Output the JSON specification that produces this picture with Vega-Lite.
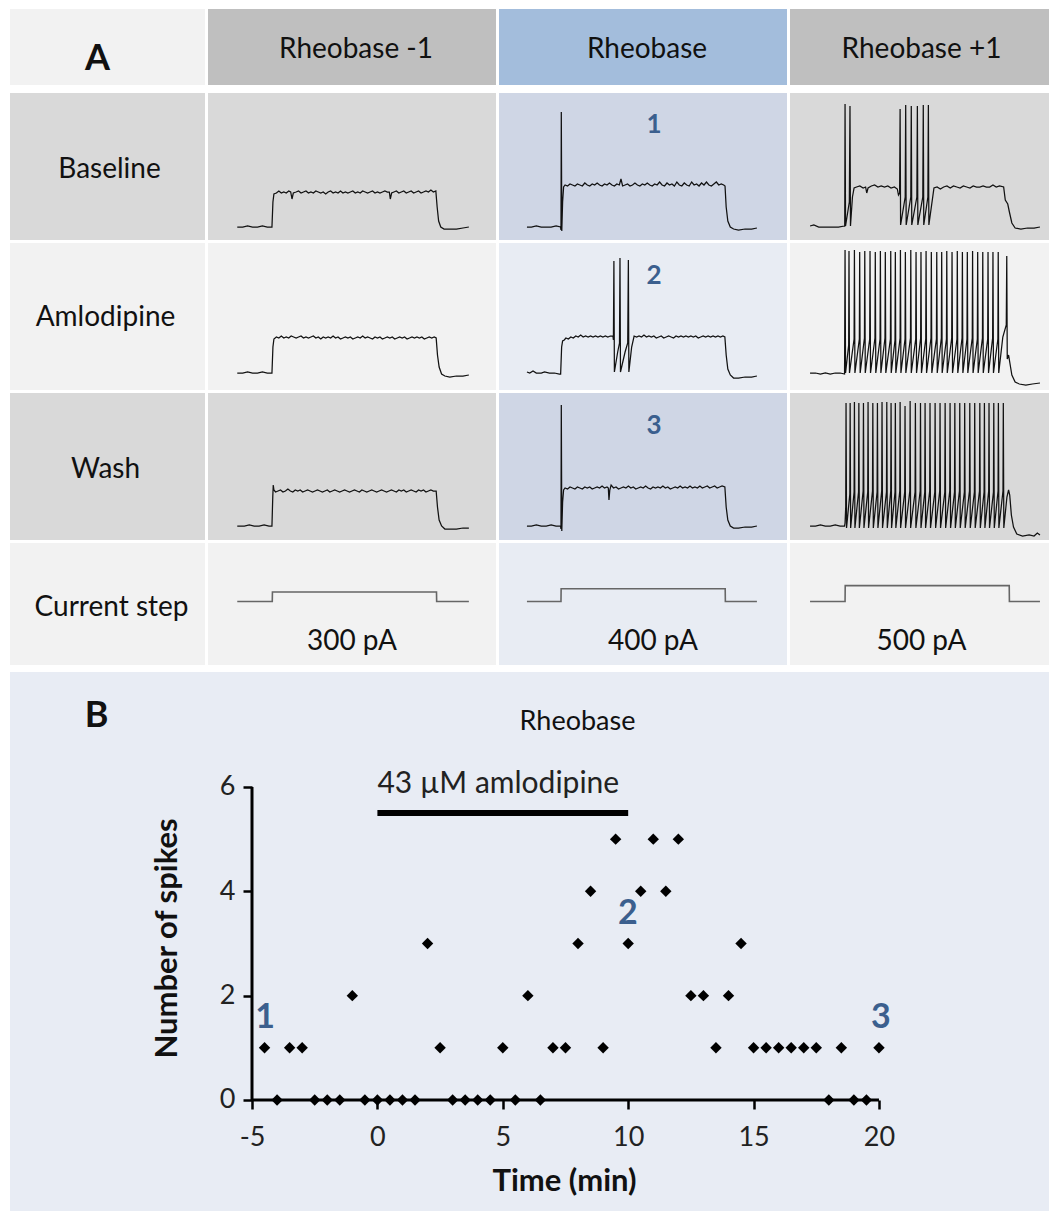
{
"$schema":"https://vega.github.io/schema/vega-lite/v6.json",
"background":"white",
"padding":{"left":10,"top":9,"right":0,"bottom":0},
"config":{"view":{"stroke":null},"font":"Lato","text":{"color":"#111"},"line":{"color":"#111","strokeWidth":1.25}},
"datasets":{
"B1":[{"t":-213,"v":-70},{"t":-180,"v":-70},{"t":-150,"v":-69},{"t":-120,"v":-70},{"t":-90,"v":-70},{"t":-60,"v":-69},{"t":-30,"v":-70},{"t":-2,"v":-70},{"t":4,"v":-45},{"t":10,"v":-37},{"t":25,"v":-36},{"t":40,"v":-34},{"t":55,"v":-36},{"t":70,"v":-35},{"t":85,"v":-36},{"t":100,"v":-34},{"t":112,"v":-35},{"t":120,"v":-42},{"t":128,"v":-36},{"t":145,"v":-35},{"t":160,"v":-34},{"t":175,"v":-36},{"t":190,"v":-35},{"t":205,"v":-34},{"t":220,"v":-36},{"t":235,"v":-35},{"t":250,"v":-36},{"t":265,"v":-34},{"t":280,"v":-35},{"t":295,"v":-36},{"t":310,"v":-35},{"t":325,"v":-37},{"t":340,"v":-35},{"t":355,"v":-34},{"t":370,"v":-36},{"t":385,"v":-35},{"t":400,"v":-36},{"t":415,"v":-34},{"t":430,"v":-36},{"t":445,"v":-35},{"t":460,"v":-36},{"t":475,"v":-35},{"t":490,"v":-34},{"t":505,"v":-36},{"t":520,"v":-35},{"t":535,"v":-36},{"t":550,"v":-34},{"t":565,"v":-35},{"t":580,"v":-36},{"t":595,"v":-35},{"t":610,"v":-34},{"t":625,"v":-36},{"t":640,"v":-35},{"t":655,"v":-36},{"t":670,"v":-35},{"t":685,"v":-34},{"t":700,"v":-35},{"t":712,"v":-35},{"t":718,"v":-42},{"t":726,"v":-36},{"t":740,"v":-35},{"t":755,"v":-34},{"t":770,"v":-36},{"t":785,"v":-35},{"t":800,"v":-34},{"t":815,"v":-36},{"t":830,"v":-35},{"t":845,"v":-34},{"t":860,"v":-36},{"t":875,"v":-35},{"t":890,"v":-34},{"t":905,"v":-36},{"t":920,"v":-35},{"t":935,"v":-34},{"t":950,"v":-35},{"t":965,"v":-33},{"t":980,"v":-35},{"t":995,"v":-34},{"t":1003,"v":-50},{"t":1012,"v":-64},{"t":1025,"v":-70},{"t":1045,"v":-72},{"t":1080,"v":-72},{"t":1120,"v":-72},{"t":1160,"v":-71},{"t":1196,"v":-70}],
"A1":[{"t":-213,"v":-66},{"t":-180,"v":-66},{"t":-150,"v":-65},{"t":-120,"v":-66},{"t":-90,"v":-66},{"t":-60,"v":-65},{"t":-30,"v":-66},{"t":-2,"v":-66},{"t":4,"v":-40},{"t":10,"v":-32},{"t":25,"v":-30},{"t":40,"v":-31},{"t":55,"v":-29},{"t":70,"v":-31},{"t":85,"v":-30},{"t":100,"v":-31},{"t":115,"v":-29},{"t":130,"v":-30},{"t":145,"v":-31},{"t":160,"v":-30},{"t":175,"v":-29},{"t":190,"v":-31},{"t":205,"v":-30},{"t":220,"v":-31},{"t":235,"v":-30},{"t":250,"v":-29},{"t":265,"v":-31},{"t":280,"v":-30},{"t":295,"v":-32},{"t":310,"v":-30},{"t":325,"v":-31},{"t":340,"v":-30},{"t":355,"v":-31},{"t":370,"v":-29},{"t":385,"v":-31},{"t":400,"v":-30},{"t":415,"v":-32},{"t":430,"v":-31},{"t":445,"v":-30},{"t":460,"v":-31},{"t":475,"v":-30},{"t":490,"v":-32},{"t":505,"v":-31},{"t":520,"v":-30},{"t":535,"v":-31},{"t":550,"v":-29},{"t":565,"v":-31},{"t":580,"v":-30},{"t":595,"v":-31},{"t":610,"v":-32},{"t":625,"v":-30},{"t":640,"v":-31},{"t":655,"v":-30},{"t":670,"v":-32},{"t":685,"v":-31},{"t":700,"v":-30},{"t":715,"v":-31},{"t":730,"v":-30},{"t":745,"v":-32},{"t":760,"v":-31},{"t":775,"v":-30},{"t":790,"v":-31},{"t":805,"v":-30},{"t":820,"v":-32},{"t":835,"v":-31},{"t":850,"v":-30},{"t":865,"v":-31},{"t":880,"v":-30},{"t":895,"v":-31},{"t":910,"v":-30},{"t":925,"v":-32},{"t":940,"v":-31},{"t":955,"v":-30},{"t":970,"v":-31},{"t":985,"v":-30},{"t":997,"v":-31},{"t":1005,"v":-48},{"t":1015,"v":-60},{"t":1030,"v":-67},{"t":1050,"v":-69},{"t":1080,"v":-70},{"t":1120,"v":-69},{"t":1160,"v":-69},{"t":1196,"v":-68}],
"W1":[{"t":-213,"v":-69},{"t":-170,"v":-69},{"t":-140,"v":-68},{"t":-110,"v":-69},{"t":-80,"v":-69},{"t":-50,"v":-68},{"t":-20,"v":-69},{"t":-2,"v":-69},{"t":3,"v":-40},{"t":6,"v":-28},{"t":10,"v":-33},{"t":20,"v":-35},{"t":35,"v":-34},{"t":50,"v":-33},{"t":65,"v":-35},{"t":80,"v":-34},{"t":95,"v":-32},{"t":110,"v":-34},{"t":125,"v":-35},{"t":140,"v":-33},{"t":155,"v":-34},{"t":170,"v":-33},{"t":185,"v":-35},{"t":200,"v":-34},{"t":215,"v":-33},{"t":230,"v":-34},{"t":245,"v":-35},{"t":260,"v":-34},{"t":275,"v":-33},{"t":290,"v":-34},{"t":305,"v":-35},{"t":320,"v":-34},{"t":335,"v":-33},{"t":350,"v":-35},{"t":365,"v":-34},{"t":380,"v":-33},{"t":395,"v":-34},{"t":410,"v":-35},{"t":425,"v":-34},{"t":440,"v":-33},{"t":455,"v":-34},{"t":470,"v":-35},{"t":485,"v":-34},{"t":500,"v":-33},{"t":515,"v":-34},{"t":530,"v":-35},{"t":545,"v":-33},{"t":560,"v":-34},{"t":575,"v":-35},{"t":590,"v":-34},{"t":605,"v":-33},{"t":620,"v":-34},{"t":635,"v":-35},{"t":650,"v":-34},{"t":665,"v":-33},{"t":680,"v":-34},{"t":695,"v":-35},{"t":710,"v":-34},{"t":725,"v":-33},{"t":740,"v":-34},{"t":755,"v":-35},{"t":770,"v":-33},{"t":785,"v":-34},{"t":800,"v":-33},{"t":815,"v":-35},{"t":830,"v":-34},{"t":845,"v":-33},{"t":860,"v":-34},{"t":875,"v":-35},{"t":890,"v":-33},{"t":905,"v":-34},{"t":920,"v":-33},{"t":935,"v":-35},{"t":950,"v":-34},{"t":965,"v":-33},{"t":980,"v":-34},{"t":997,"v":-34},{"t":1005,"v":-50},{"t":1015,"v":-63},{"t":1030,"v":-69},{"t":1050,"v":-72},{"t":1080,"v":-72},{"t":1120,"v":-72},{"t":1160,"v":-71},{"t":1196,"v":-71}],
"B2":[{"t":-207,"v":-70},{"t":-180,"v":-70},{"t":-150,"v":-69},{"t":-120,"v":-70},{"t":-90,"v":-70},{"t":-60,"v":-70},{"t":-30,"v":-69},{"t":-3,"v":-70},{"t":0,"v":-73},{"t":2,"v":45},{"t":5,"v":-74},{"t":10,"v":-45},{"t":16,"v":-30},{"t":25,"v":-28},{"t":40,"v":-29},{"t":55,"v":-27},{"t":70,"v":-28},{"t":85,"v":-29},{"t":100,"v":-27},{"t":115,"v":-28},{"t":130,"v":-29},{"t":145,"v":-26},{"t":160,"v":-28},{"t":175,"v":-29},{"t":190,"v":-27},{"t":205,"v":-28},{"t":220,"v":-26},{"t":235,"v":-28},{"t":250,"v":-29},{"t":265,"v":-27},{"t":280,"v":-28},{"t":295,"v":-26},{"t":310,"v":-28},{"t":325,"v":-29},{"t":340,"v":-27},{"t":355,"v":-28},{"t":365,"v":-22},{"t":375,"v":-29},{"t":390,"v":-28},{"t":405,"v":-27},{"t":420,"v":-29},{"t":435,"v":-28},{"t":450,"v":-26},{"t":465,"v":-28},{"t":480,"v":-29},{"t":495,"v":-27},{"t":510,"v":-28},{"t":525,"v":-26},{"t":540,"v":-28},{"t":555,"v":-29},{"t":570,"v":-27},{"t":585,"v":-28},{"t":600,"v":-25},{"t":615,"v":-28},{"t":630,"v":-29},{"t":645,"v":-26},{"t":660,"v":-28},{"t":675,"v":-27},{"t":690,"v":-29},{"t":705,"v":-25},{"t":720,"v":-28},{"t":735,"v":-29},{"t":750,"v":-26},{"t":765,"v":-28},{"t":780,"v":-29},{"t":795,"v":-25},{"t":810,"v":-28},{"t":825,"v":-27},{"t":840,"v":-29},{"t":855,"v":-26},{"t":870,"v":-28},{"t":885,"v":-25},{"t":900,"v":-28},{"t":915,"v":-29},{"t":930,"v":-27},{"t":945,"v":-25},{"t":960,"v":-28},{"t":975,"v":-27},{"t":990,"v":-28},{"t":998,"v":-29},{"t":1005,"v":-50},{"t":1015,"v":-64},{"t":1030,"v":-70},{"t":1050,"v":-72},{"t":1080,"v":-73},{"t":1120,"v":-72},{"t":1160,"v":-72},{"t":1192,"v":-71}],
"A2":[{"t":-207,"v":-65},{"t":-190,"v":-66},{"t":-170,"v":-64},{"t":-150,"v":-66},{"t":-120,"v":-66},{"t":-100,"v":-65},{"t":-70,"v":-66},{"t":-40,"v":-66},{"t":-10,"v":-67},{"t":-2,"v":-67},{"t":4,"v":-40},{"t":10,"v":-34},{"t":20,"v":-33},{"t":30,"v":-31},{"t":45,"v":-32},{"t":60,"v":-30},{"t":75,"v":-31},{"t":90,"v":-29},{"t":105,"v":-30},{"t":120,"v":-28},{"t":135,"v":-30},{"t":150,"v":-29},{"t":165,"v":-30},{"t":180,"v":-29},{"t":195,"v":-30},{"t":210,"v":-29},{"t":225,"v":-30},{"t":240,"v":-29},{"t":255,"v":-30},{"t":270,"v":-29},{"t":285,"v":-30},{"t":300,"v":-29},{"t":316,"v":-29},{"t":319,"v":-33},{"t":322,"v":46},{"t":325,"v":-65},{"t":345,"v":-45},{"t":356,"v":-36},{"t":359,"v":49},{"t":362,"v":-65},{"t":390,"v":-45},{"t":406,"v":-36},{"t":410,"v":47},{"t":413,"v":-65},{"t":430,"v":-40},{"t":445,"v":-29},{"t":460,"v":-30},{"t":475,"v":-29},{"t":490,"v":-30},{"t":505,"v":-28},{"t":520,"v":-30},{"t":535,"v":-29},{"t":550,"v":-30},{"t":565,"v":-29},{"t":580,"v":-31},{"t":595,"v":-30},{"t":610,"v":-29},{"t":625,"v":-31},{"t":640,"v":-30},{"t":655,"v":-29},{"t":670,"v":-30},{"t":685,"v":-31},{"t":700,"v":-29},{"t":715,"v":-30},{"t":730,"v":-29},{"t":745,"v":-30},{"t":760,"v":-29},{"t":775,"v":-30},{"t":790,"v":-29},{"t":805,"v":-30},{"t":820,"v":-29},{"t":835,"v":-31},{"t":850,"v":-30},{"t":865,"v":-29},{"t":880,"v":-30},{"t":895,"v":-29},{"t":910,"v":-30},{"t":925,"v":-29},{"t":940,"v":-30},{"t":955,"v":-29},{"t":970,"v":-30},{"t":985,"v":-29},{"t":997,"v":-30},{"t":1005,"v":-48},{"t":1015,"v":-62},{"t":1030,"v":-68},{"t":1050,"v":-71},{"t":1080,"v":-71},{"t":1120,"v":-70},{"t":1160,"v":-70},{"t":1192,"v":-69}],
"W2":[{"t":-207,"v":-69},{"t":-180,"v":-69},{"t":-150,"v":-68},{"t":-120,"v":-69},{"t":-90,"v":-69},{"t":-60,"v":-68},{"t":-30,"v":-69},{"t":-3,"v":-69},{"t":0,"v":-72},{"t":2,"v":52},{"t":5,"v":-74},{"t":10,"v":-45},{"t":16,"v":-33},{"t":25,"v":-31},{"t":40,"v":-32},{"t":55,"v":-30},{"t":70,"v":-31},{"t":85,"v":-32},{"t":100,"v":-30},{"t":115,"v":-31},{"t":130,"v":-32},{"t":145,"v":-30},{"t":160,"v":-31},{"t":175,"v":-30},{"t":190,"v":-32},{"t":205,"v":-31},{"t":220,"v":-30},{"t":235,"v":-31},{"t":250,"v":-29},{"t":265,"v":-31},{"t":280,"v":-30},{"t":288,"v":-31},{"t":292,"v":-43},{"t":297,"v":-33},{"t":305,"v":-28},{"t":320,"v":-31},{"t":335,"v":-30},{"t":350,"v":-32},{"t":365,"v":-31},{"t":380,"v":-30},{"t":395,"v":-31},{"t":410,"v":-29},{"t":425,"v":-31},{"t":440,"v":-30},{"t":455,"v":-32},{"t":470,"v":-31},{"t":485,"v":-30},{"t":500,"v":-31},{"t":515,"v":-29},{"t":530,"v":-31},{"t":545,"v":-32},{"t":560,"v":-30},{"t":575,"v":-31},{"t":590,"v":-30},{"t":605,"v":-31},{"t":620,"v":-29},{"t":635,"v":-31},{"t":650,"v":-30},{"t":665,"v":-32},{"t":680,"v":-31},{"t":695,"v":-30},{"t":710,"v":-31},{"t":725,"v":-29},{"t":740,"v":-31},{"t":755,"v":-30},{"t":770,"v":-31},{"t":785,"v":-29},{"t":800,"v":-31},{"t":815,"v":-30},{"t":830,"v":-31},{"t":845,"v":-29},{"t":860,"v":-31},{"t":875,"v":-30},{"t":890,"v":-29},{"t":905,"v":-31},{"t":920,"v":-30},{"t":935,"v":-29},{"t":950,"v":-31},{"t":965,"v":-30},{"t":980,"v":-29},{"t":997,"v":-30},{"t":1005,"v":-50},{"t":1015,"v":-63},{"t":1030,"v":-69},{"t":1050,"v":-71},{"t":1080,"v":-71},{"t":1120,"v":-70},{"t":1160,"v":-70},{"t":1192,"v":-69}],
"B3":[{"t":-213,"v":-69},{"t":-190,"v":-68},{"t":-160,"v":-70},{"t":-130,"v":-70},{"t":-100,"v":-70},{"t":-70,"v":-70},{"t":-40,"v":-70},{"t":-5,"v":-69},{"t":-2,"v":-69},{"t":0,"v":53},{"t":3,"v":-69},{"t":26,"v":-45},{"t":30,"v":51},{"t":33,"v":-69},{"t":45,"v":-40},{"t":55,"v":-31},{"t":70,"v":-30},{"t":90,"v":-29},{"t":110,"v":-31},{"t":125,"v":-30},{"t":132,"v":-36},{"t":140,"v":-31},{"t":160,"v":-29},{"t":180,"v":-28},{"t":200,"v":-30},{"t":220,"v":-29},{"t":240,"v":-30},{"t":260,"v":-29},{"t":280,"v":-31},{"t":300,"v":-30},{"t":318,"v":-32},{"t":325,"v":-38},{"t":332,"v":-36},{"t":335,"v":48},{"t":338,"v":-68},{"t":366,"v":-40},{"t":369,"v":52},{"t":372,"v":-68},{"t":400,"v":-40},{"t":403,"v":51},{"t":406,"v":-68},{"t":437,"v":-40},{"t":440,"v":51},{"t":443,"v":-68},{"t":473,"v":-40},{"t":476,"v":52},{"t":479,"v":-68},{"t":504,"v":-40},{"t":507,"v":52},{"t":510,"v":-68},{"t":541,"v":-31},{"t":560,"v":-30},{"t":580,"v":-32},{"t":600,"v":-30},{"t":620,"v":-29},{"t":640,"v":-31},{"t":660,"v":-29},{"t":680,"v":-30},{"t":700,"v":-31},{"t":720,"v":-29},{"t":740,"v":-30},{"t":760,"v":-31},{"t":780,"v":-29},{"t":800,"v":-30},{"t":820,"v":-30},{"t":840,"v":-29},{"t":860,"v":-30},{"t":880,"v":-30},{"t":900,"v":-28},{"t":920,"v":-30},{"t":940,"v":-29},{"t":965,"v":-30},{"t":975,"v":-43},{"t":990,"v":-47},{"t":1000,"v":-55},{"t":1015,"v":-66},{"t":1035,"v":-71},{"t":1070,"v":-72},{"t":1110,"v":-71},{"t":1150,"v":-71},{"t":1186,"v":-70}],
"A3":[{"t":-213,"v":-66},{"t":-180,"v":-66},{"t":-150,"v":-67},{"t":-120,"v":-66},{"t":-90,"v":-67},{"t":-60,"v":-66},{"t":-30,"v":-66},{"t":-3,"v":-67},{"t":0,"v":57},{"t":3,"v":-66},{"t":22,"v":-38},{"t":24,"v":56},{"t":27,"v":-66},{"t":55,"v":-32},{"t":57,"v":57},{"t":60,"v":-66},{"t":87,"v":-32},{"t":89,"v":55},{"t":92,"v":-66},{"t":118,"v":-31},{"t":120,"v":56},{"t":123,"v":-66},{"t":150,"v":-32},{"t":152,"v":56},{"t":155,"v":-66},{"t":182,"v":-31},{"t":184,"v":55},{"t":187,"v":-66},{"t":213,"v":-32},{"t":215,"v":56},{"t":218,"v":-66},{"t":243,"v":-31},{"t":245,"v":55},{"t":248,"v":-66},{"t":276,"v":-32},{"t":278,"v":56},{"t":281,"v":-66},{"t":304,"v":-33},{"t":306,"v":55},{"t":309,"v":-66},{"t":335,"v":-31},{"t":337,"v":57},{"t":340,"v":-66},{"t":365,"v":-32},{"t":367,"v":55},{"t":370,"v":-66},{"t":398,"v":-31},{"t":400,"v":57},{"t":403,"v":-66},{"t":430,"v":-32},{"t":432,"v":55},{"t":435,"v":-66},{"t":460,"v":-31},{"t":462,"v":55},{"t":465,"v":-66},{"t":491,"v":-32},{"t":493,"v":56},{"t":496,"v":-66},{"t":523,"v":-31},{"t":525,"v":55},{"t":528,"v":-66},{"t":556,"v":-32},{"t":558,"v":55},{"t":561,"v":-66},{"t":586,"v":-31},{"t":588,"v":55},{"t":591,"v":-66},{"t":617,"v":-32},{"t":619,"v":56},{"t":622,"v":-66},{"t":649,"v":-31},{"t":651,"v":55},{"t":654,"v":-66},{"t":681,"v":-32},{"t":683,"v":56},{"t":686,"v":-66},{"t":712,"v":-31},{"t":714,"v":55},{"t":717,"v":-66},{"t":742,"v":-32},{"t":744,"v":55},{"t":747,"v":-66},{"t":774,"v":-31},{"t":776,"v":56},{"t":779,"v":-66},{"t":805,"v":-32},{"t":807,"v":55},{"t":810,"v":-66},{"t":836,"v":-31},{"t":838,"v":55},{"t":841,"v":-66},{"t":868,"v":-32},{"t":870,"v":55},{"t":873,"v":-66},{"t":898,"v":-31},{"t":900,"v":55},{"t":903,"v":-66},{"t":930,"v":-32},{"t":932,"v":55},{"t":935,"v":-66},{"t":960,"v":-30},{"t":981,"v":-18},{"t":984,"v":51},{"t":987,"v":-52},{"t":995,"v":-48},{"t":1003,"v":-56},{"t":1015,"v":-68},{"t":1035,"v":-75},{"t":1060,"v":-77},{"t":1100,"v":-78},{"t":1140,"v":-77},{"t":1186,"v":-76}],
"W3":[{"t":-213,"v":-69},{"t":-180,"v":-69},{"t":-150,"v":-68},{"t":-120,"v":-69},{"t":-90,"v":-69},{"t":-60,"v":-68},{"t":-30,"v":-69},{"t":-3,"v":-69},{"t":0,"v":-66},{"t":4,"v":-50},{"t":6,"v":54},{"t":9,"v":-71},{"t":29,"v":-37},{"t":31,"v":54},{"t":34,"v":-71},{"t":55,"v":-35},{"t":57,"v":55},{"t":60,"v":-71},{"t":82,"v":-35},{"t":84,"v":54},{"t":87,"v":-71},{"t":110,"v":-34},{"t":112,"v":54},{"t":115,"v":-71},{"t":138,"v":-35},{"t":140,"v":55},{"t":143,"v":-71},{"t":167,"v":-34},{"t":169,"v":54},{"t":172,"v":-71},{"t":195,"v":-35},{"t":197,"v":54},{"t":200,"v":-71},{"t":223,"v":-34},{"t":225,"v":55},{"t":228,"v":-71},{"t":252,"v":-35},{"t":254,"v":55},{"t":257,"v":-71},{"t":278,"v":-34},{"t":280,"v":54},{"t":283,"v":-71},{"t":304,"v":-35},{"t":306,"v":54},{"t":309,"v":-71},{"t":333,"v":-34},{"t":335,"v":55},{"t":338,"v":-71},{"t":363,"v":-35},{"t":365,"v":51},{"t":368,"v":-71},{"t":394,"v":-34},{"t":396,"v":56},{"t":399,"v":-71},{"t":426,"v":-35},{"t":428,"v":54},{"t":431,"v":-71},{"t":457,"v":-34},{"t":459,"v":54},{"t":462,"v":-71},{"t":485,"v":-35},{"t":487,"v":54},{"t":490,"v":-71},{"t":515,"v":-34},{"t":517,"v":54},{"t":520,"v":-71},{"t":546,"v":-35},{"t":548,"v":54},{"t":551,"v":-71},{"t":576,"v":-34},{"t":578,"v":54},{"t":581,"v":-71},{"t":607,"v":-35},{"t":609,"v":54},{"t":612,"v":-71},{"t":637,"v":-34},{"t":639,"v":54},{"t":642,"v":-71},{"t":666,"v":-35},{"t":668,"v":54},{"t":671,"v":-71},{"t":696,"v":-34},{"t":698,"v":54},{"t":701,"v":-71},{"t":726,"v":-35},{"t":728,"v":54},{"t":731,"v":-71},{"t":757,"v":-34},{"t":759,"v":54},{"t":762,"v":-71},{"t":787,"v":-35},{"t":789,"v":54},{"t":792,"v":-71},{"t":818,"v":-34},{"t":820,"v":54},{"t":823,"v":-71},{"t":846,"v":-35},{"t":848,"v":54},{"t":851,"v":-71},{"t":874,"v":-34},{"t":876,"v":54},{"t":879,"v":-71},{"t":903,"v":-35},{"t":905,"v":54},{"t":908,"v":-71},{"t":931,"v":-34},{"t":933,"v":54},{"t":936,"v":-71},{"t":961,"v":-34},{"t":963,"v":54},{"t":966,"v":-71},{"t":985,"v":-40},{"t":995,"v":-33},{"t":1002,"v":-38},{"t":1012,"v":-58},{"t":1025,"v":-70},{"t":1045,"v":-77},{"t":1080,"v":-79},{"t":1120,"v":-78},{"t":1150,"v":-79},{"t":1170,"v":-76},{"t":1186,"v":-78}],
"S1":[{"t":-213,"pa":0},{"t":0,"pa":0},{"t":1,"pa":300},{"t":999,"pa":300},{"t":1000,"pa":0},{"t":1196,"pa":0}],
"S2":[{"t":-207,"pa":0},{"t":0,"pa":0},{"t":1,"pa":400},{"t":999,"pa":400},{"t":1000,"pa":0},{"t":1192,"pa":0}],
"S3":[{"t":-213,"pa":0},{"t":0,"pa":0},{"t":1,"pa":500},{"t":999,"pa":500},{"t":1000,"pa":0},{"t":1186,"pa":0}],
"spk":[{"time":-4.5,"spikes":1},{"time":-4,"spikes":0},{"time":-3.5,"spikes":1},{"time":-3,"spikes":1},{"time":-2.5,"spikes":0},{"time":-2,"spikes":0},{"time":-1.5,"spikes":0},{"time":-1,"spikes":2},{"time":-0.5,"spikes":0},{"time":0,"spikes":0},{"time":0.5,"spikes":0},{"time":1,"spikes":0},{"time":1.5,"spikes":0},{"time":2,"spikes":3},{"time":2.5,"spikes":1},{"time":3,"spikes":0},{"time":3.5,"spikes":0},{"time":4,"spikes":0},{"time":4.5,"spikes":0},{"time":5,"spikes":1},{"time":5.5,"spikes":0},{"time":6,"spikes":2},{"time":6.5,"spikes":0},{"time":7,"spikes":1},{"time":7.5,"spikes":1},{"time":8,"spikes":3},{"time":8.5,"spikes":4},{"time":9,"spikes":1},{"time":9.5,"spikes":5},{"time":10,"spikes":3},{"time":10.5,"spikes":4},{"time":11,"spikes":5},{"time":11.5,"spikes":4},{"time":12,"spikes":5},{"time":12.5,"spikes":2},{"time":13,"spikes":2},{"time":13.5,"spikes":1},{"time":14,"spikes":2},{"time":14.5,"spikes":3},{"time":15,"spikes":1},{"time":15.5,"spikes":1},{"time":16,"spikes":1},{"time":16.5,"spikes":1},{"time":17,"spikes":1},{"time":17.5,"spikes":1},{"time":18,"spikes":0},{"time":18.5,"spikes":1},{"time":19,"spikes":0},{"time":19.5,"spikes":0},{"time":20,"spikes":1}],
"drug":[{"time":0,"time2":10,"spikes":5.5,"label":"43 µM amlodipine"}],
"axl":[{"time":-5,"time2":20,"spikes":0,"spikes2":0},{"time":-5,"time2":-5,"spikes":0,"spikes2":6}],
"ann":[{"time":-4.48,"spikes":1.58,"label":"1"},{"time":9.99,"spikes":3.57,"label":"2"},{"time":20.08,"spikes":1.58,"label":"3"}],
"panel":[{"time":-11.2,"spikes":7.36,"label":"B"}]
},
"vconcat":[
{"vconcat":[
 {"hconcat":[
  {"width":195,"height":76,"view":{"fill":"#f2f2f2","stroke":null},"data":{"values":[{"label":"A"}]},"mark":{"type":"text","fontSize":36,"fontWeight":"bold","dx":-10,"dy":12},"encoding":{"text":{"field":"label"}}},
  {"width":288,"height":76,"view":{"fill":"#bfbfbf","stroke":null},"data":{"values":[{"label":"Rheobase -1"}]},"mark":{"type":"text","fontSize":28,"dx":4,"dy":3},"encoding":{"text":{"field":"label"}}},
  {"width":288,"height":76,"view":{"fill":"#a3bddc","stroke":null},"data":{"values":[{"label":"Rheobase"}]},"mark":{"type":"text","fontSize":28,"dx":4,"dy":3},"encoding":{"text":{"field":"label"}}},
  {"width":259,"height":76,"view":{"fill":"#bfbfbf","stroke":null},"data":{"values":[{"label":"Rheobase +1"}]},"mark":{"type":"text","fontSize":28,"dx":2,"dy":3},"encoding":{"text":{"field":"label"}}}
 ],"spacing":3},
 {"vconcat":[
  {"hconcat":[
   {"width":195,"height":147,"view":{"fill":"#d9d9d9","stroke":null},"data":{"values":[{"label":"Baseline"}]},"mark":{"type":"text","fontSize":28,"dx":2,"dy":3},"encoding":{"text":{"field":"label"}}},
   {"width":288,"height":147,"view":{"fill":"#d9d9d9","stroke":null},"data":{"name":"B1"},"mark":{"type":"line"},"encoding":{"x":{"field":"t","type":"quantitative","scale":{"domain":[-391,1361],"nice":false,"zero":false},"axis":null},"y":{"field":"v","type":"quantitative","scale":{"domain":[-83,64],"nice":false,"zero":false},"axis":null}}},
   {"width":288,"height":147,"view":{"fill":"#cfd6e5","stroke":null},"layer":[
     {"data":{"name":"B2"},"mark":{"type":"line"},"encoding":{"x":{"field":"t","type":"quantitative","scale":{"domain":[-377,1375],"nice":false,"zero":false},"axis":null},"y":{"field":"v","type":"quantitative","scale":{"domain":[-83,64],"nice":false,"zero":false},"axis":null}}},
     {"data":{"values":[{"label":"1"}]},"mark":{"type":"text","fontSize":26,"fontWeight":"bold","color":"#3b5f8e","dx":11,"dy":-42},"encoding":{"text":{"field":"label"}}}]},
   {"width":259,"height":147,"view":{"fill":"#d9d9d9","stroke":null},"data":{"name":"B3"},"mark":{"type":"line"},"encoding":{"x":{"field":"t","type":"quantitative","scale":{"domain":[-335,1241],"nice":false,"zero":false},"axis":null},"y":{"field":"v","type":"quantitative","scale":{"domain":[-83,64],"nice":false,"zero":false},"axis":null}}}
  ],"spacing":3},
  {"hconcat":[
   {"width":195,"height":147,"view":{"fill":"#f2f2f2","stroke":null},"data":{"values":[{"label":"Amlodipine"}]},"mark":{"type":"text","fontSize":28,"dx":-2,"dy":1},"encoding":{"text":{"field":"label"}}},
   {"width":288,"height":147,"view":{"fill":"#f2f2f2","stroke":null},"data":{"name":"A1"},"mark":{"type":"line"},"encoding":{"x":{"field":"t","type":"quantitative","scale":{"domain":[-391,1361],"nice":false,"zero":false},"axis":null},"y":{"field":"v","type":"quantitative","scale":{"domain":[-83,64],"nice":false,"zero":false},"axis":null}}},
   {"width":288,"height":147,"view":{"fill":"#e8ecf3","stroke":null},"layer":[
     {"data":{"name":"A2"},"mark":{"type":"line"},"encoding":{"x":{"field":"t","type":"quantitative","scale":{"domain":[-377,1375],"nice":false,"zero":false},"axis":null},"y":{"field":"v","type":"quantitative","scale":{"domain":[-83,64],"nice":false,"zero":false},"axis":null}}},
     {"data":{"values":[{"label":"2"}]},"mark":{"type":"text","fontSize":26,"fontWeight":"bold","color":"#3b5f8e","dx":11,"dy":-41},"encoding":{"text":{"field":"label"}}}]},
   {"width":259,"height":147,"view":{"fill":"#f2f2f2","stroke":null},"data":{"name":"A3"},"mark":{"type":"line"},"encoding":{"x":{"field":"t","type":"quantitative","scale":{"domain":[-335,1241],"nice":false,"zero":false},"axis":null},"y":{"field":"v","type":"quantitative","scale":{"domain":[-83,64],"nice":false,"zero":false},"axis":null}}}
  ],"spacing":3},
  {"hconcat":[
   {"width":195,"height":147,"view":{"fill":"#d9d9d9","stroke":null},"data":{"values":[{"label":"Wash"}]},"mark":{"type":"text","fontSize":28,"dx":-2,"dy":3},"encoding":{"text":{"field":"label"}}},
   {"width":288,"height":147,"view":{"fill":"#d9d9d9","stroke":null},"data":{"name":"W1"},"mark":{"type":"line"},"encoding":{"x":{"field":"t","type":"quantitative","scale":{"domain":[-391,1361],"nice":false,"zero":false},"axis":null},"y":{"field":"v","type":"quantitative","scale":{"domain":[-83,64],"nice":false,"zero":false},"axis":null}}},
   {"width":288,"height":147,"view":{"fill":"#cfd6e5","stroke":null},"layer":[
     {"data":{"name":"W2"},"mark":{"type":"line"},"encoding":{"x":{"field":"t","type":"quantitative","scale":{"domain":[-377,1375],"nice":false,"zero":false},"axis":null},"y":{"field":"v","type":"quantitative","scale":{"domain":[-83,64],"nice":false,"zero":false},"axis":null}}},
     {"data":{"values":[{"label":"3"}]},"mark":{"type":"text","fontSize":26,"fontWeight":"bold","color":"#3b5f8e","dx":11,"dy":-41},"encoding":{"text":{"field":"label"}}}]},
   {"width":259,"height":147,"view":{"fill":"#d9d9d9","stroke":null},"data":{"name":"W3"},"mark":{"type":"line"},"encoding":{"x":{"field":"t","type":"quantitative","scale":{"domain":[-335,1241],"nice":false,"zero":false},"axis":null},"y":{"field":"v","type":"quantitative","scale":{"domain":[-83,64],"nice":false,"zero":false},"axis":null}}}
  ],"spacing":3},
  {"hconcat":[
   {"width":195,"height":122,"view":{"fill":"#f2f2f2","stroke":null},"data":{"values":[{"label":"Current step"}]},"mark":{"type":"text","fontSize":28,"dx":4,"dy":4},"encoding":{"text":{"field":"label"}}},
   {"width":288,"height":122,"view":{"fill":"#f2f2f2","stroke":null},"layer":[
     {"data":{"name":"S1"},"mark":{"type":"line","color":"#666","strokeWidth":1.6},"encoding":{"x":{"field":"t","type":"quantitative","scale":{"domain":[-391,1361],"nice":false,"zero":false},"axis":null},"y":{"field":"pa","type":"quantitative","scale":{"domain":[-2000,1843],"nice":false,"zero":false},"axis":null}}},
     {"data":{"values":[{"label":"300 pA"}]},"mark":{"type":"text","fontSize":28,"dy":38},"encoding":{"text":{"field":"label"}}}]},
   {"width":288,"height":122,"view":{"fill":"#e8ecf3","stroke":null},"layer":[
     {"data":{"name":"S2"},"mark":{"type":"line","color":"#666","strokeWidth":1.6},"encoding":{"x":{"field":"t","type":"quantitative","scale":{"domain":[-377,1375],"nice":false,"zero":false},"axis":null},"y":{"field":"pa","type":"quantitative","scale":{"domain":[-2000,1843],"nice":false,"zero":false},"axis":null}}},
     {"data":{"values":[{"label":"400 pA"}]},"mark":{"type":"text","fontSize":28,"dy":38,"dx":10},"encoding":{"text":{"field":"label"}}}]},
   {"width":259,"height":122,"view":{"fill":"#f2f2f2","stroke":null},"layer":[
     {"data":{"name":"S3"},"mark":{"type":"line","color":"#666","strokeWidth":1.6},"encoding":{"x":{"field":"t","type":"quantitative","scale":{"domain":[-335,1241],"nice":false,"zero":false},"axis":null},"y":{"field":"pa","type":"quantitative","scale":{"domain":[-2000,1843],"nice":false,"zero":false},"axis":null}}},
     {"data":{"values":[{"label":"500 pA"}]},"mark":{"type":"text","fontSize":28,"dy":38,"dx":2},"encoding":{"text":{"field":"label"}}}]}
  ],"spacing":3}
 ],"spacing":3}
],"spacing":8},
{"width":1039,"height":539,"view":{"fill":"#e8ecf4","stroke":null},
 "title":{"text":"Rheobase","offset":-64,"fontSize":27,"fontWeight":"normal","color":"#111","anchor":"middle","dx":48},
 "layer":[
  {"data":{"name":"axl"},"mark":{"type":"rule","color":"#000","strokeWidth":3},
   "encoding":{
    "x":{"field":"time","type":"quantitative","scale":{"domain":[-14.65,26.78],"nice":false,"zero":false},
      "axis":{"values":[-5,0,5,10,15,20],"offset":-111,"domain":false,"grid":false,"tickSize":9,"tickWidth":2.5,"tickColor":"#000","labelFontSize":27,"labelColor":"#222","labelPadding":15,"labelFlush":false,"labelOverlap":false,"labelExpr":"'' + datum.value","title":"Time (min)","titleFontSize":31,"titleFontWeight":"bold","titleColor":"#111","titlePadding":16,"titleX":554}},
    "x2":{"field":"time2"},
    "y":{"field":"spikes","type":"quantitative","scale":{"domain":[-2.128,8.204],"nice":false,"zero":false},
      "axis":{"values":[0,2,4,6],"offset":-242,"domain":false,"grid":false,"tickSize":9,"tickWidth":2.5,"tickColor":"#000","labelFontSize":27,"labelColor":"#222","labelPadding":8,"labelFlush":false,"labelOverlap":false,"title":"Number of spikes","titleFontSize":31,"titleFontWeight":"bold","titleColor":"#111","titlePadding":36,"titleY":266}},
    "y2":{"field":"spikes2"}}},
  {"data":{"name":"drug"},"mark":{"type":"rule","color":"#000","strokeWidth":6},
   "encoding":{"x":{"field":"time","type":"quantitative"},"x2":{"field":"time2"},"y":{"field":"spikes","type":"quantitative"}}},
  {"data":{"name":"drug"},"mark":{"type":"text","fontSize":30,"align":"left","baseline":"alphabetic","dy":-20,"color":"#222"},
   "encoding":{"x":{"field":"time","type":"quantitative"},"y":{"field":"spikes","type":"quantitative"},"text":{"field":"label"}}},
  {"data":{"name":"spk"},"mark":{"type":"point","shape":"diamond","filled":true,"color":"#000","size":130,"opacity":1},
   "encoding":{"x":{"field":"time","type":"quantitative"},"y":{"field":"spikes","type":"quantitative"}}},
  {"data":{"name":"ann"},"mark":{"type":"text","fontSize":34,"fontWeight":"bold","color":"#3b5f8e","baseline":"middle"},
   "encoding":{"x":{"field":"time","type":"quantitative"},"y":{"field":"spikes","type":"quantitative"},"text":{"field":"label"}}},
  {"data":{"name":"panel"},"mark":{"type":"text","fontSize":36,"fontWeight":"bold","color":"#111","baseline":"middle"},
   "encoding":{"x":{"field":"time","type":"quantitative"},"y":{"field":"spikes","type":"quantitative"},"text":{"field":"label"}}}
 ]}
],"spacing":7}
